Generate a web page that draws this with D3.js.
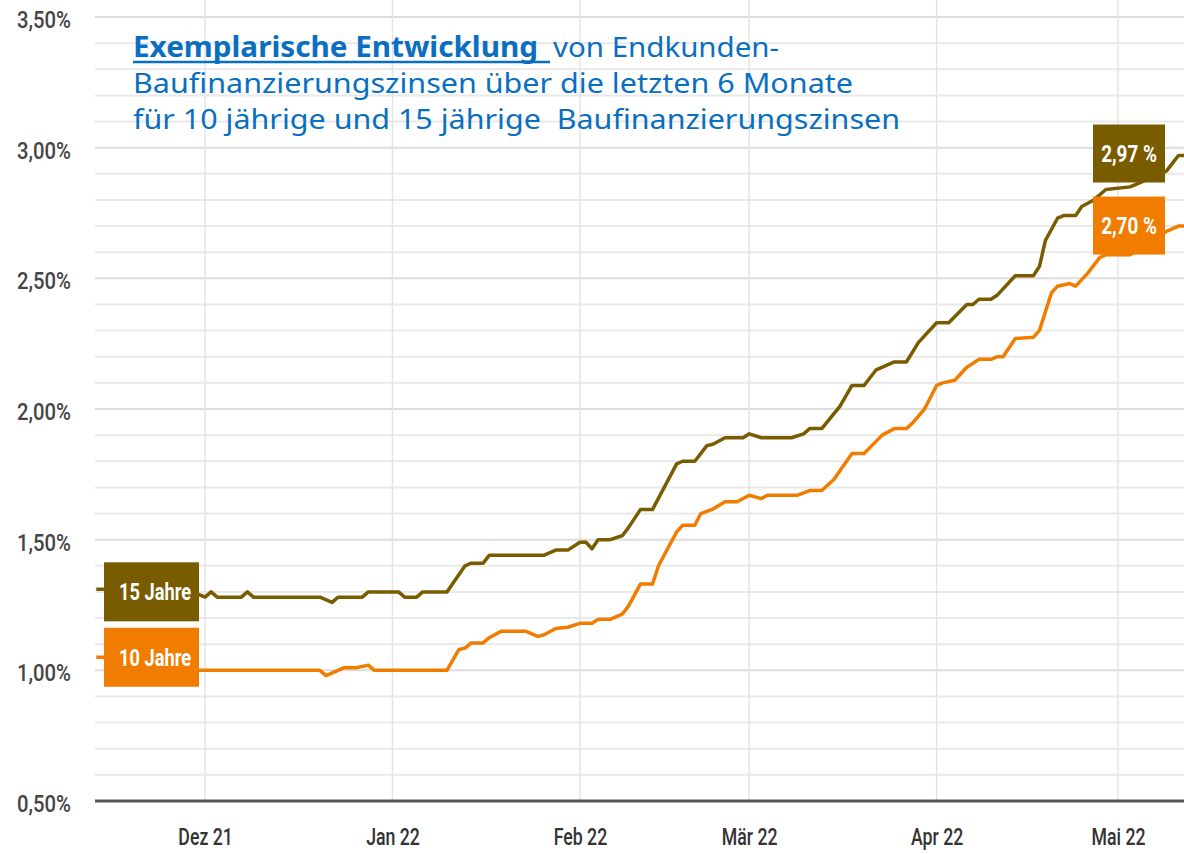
<!DOCTYPE html>
<html>
<head>
<meta charset="utf-8">
<script src="https://cdn.jsdelivr.net/npm/d3@7"></script>
<style>
  body { margin: 0; background: #fff; }
  svg { display: block; }
</style>
</head>
<body>
<script>
// Breakpoints of the two lines
var dates15 = ["2021-11-13","2021-11-14","2021-11-20","2021-11-24","2021-11-30","2021-12-01","2021-12-02","2021-12-03","2021-12-07","2021-12-08","2021-12-09","2021-12-20","2021-12-22","2021-12-23","2021-12-27","2021-12-28","2022-01-02","2022-01-03","2022-01-05","2022-01-06","2022-01-10","2022-01-13","2022-01-14","2022-01-16","2022-01-17","2022-01-26","2022-01-28","2022-01-30","2022-02-01","2022-02-02","2022-02-03","2022-02-04","2022-02-06","2022-02-08","2022-02-09","2022-02-11","2022-02-13","2022-02-17","2022-02-18","2022-02-20","2022-02-22","2022-02-23","2022-02-25","2022-02-28","2022-03-01","2022-03-03","2022-03-08","2022-03-10","2022-03-11","2022-03-13","2022-03-16","2022-03-18","2022-03-20","2022-03-22","2022-03-25","2022-03-27","2022-03-29","2022-04-01","2022-04-03","2022-04-06","2022-04-07","2022-04-08","2022-04-10","2022-04-11","2022-04-14","2022-04-17","2022-04-18","2022-04-19","2022-04-21","2022-04-22","2022-04-24","2022-04-25","2022-04-27","2022-04-29","2022-05-03","2022-05-06","2022-05-09","2022-05-11","2022-05-12"];
var values15 = [1.31,1.31,1.31,1.29,1.29,1.28,1.30,1.28,1.28,1.30,1.28,1.28,1.26,1.28,1.28,1.30,1.30,1.28,1.28,1.30,1.30,1.40,1.41,1.41,1.44,1.44,1.46,1.46,1.49,1.49,1.465,1.50,1.50,1.515,1.545,1.615,1.615,1.79,1.80,1.80,1.86,1.865,1.89,1.89,1.905,1.89,1.89,1.905,1.925,1.925,2.01,2.09,2.09,2.15,2.18,2.18,2.255,2.33,2.33,2.40,2.40,2.42,2.42,2.435,2.51,2.51,2.545,2.645,2.73,2.74,2.74,2.775,2.80,2.84,2.85,2.88,2.91,2.97,2.97];

var dates10 = ["2021-11-13","2021-11-14","2021-11-20","2021-11-24","2021-11-30","2021-12-20","2021-12-21","2021-12-23","2021-12-24","2021-12-26","2021-12-28","2021-12-29","2022-01-10","2022-01-12","2022-01-13","2022-01-14","2022-01-16","2022-01-17","2022-01-19","2022-01-23","2022-01-25","2022-01-26","2022-01-28","2022-01-30","2022-02-01","2022-02-03","2022-02-04","2022-02-06","2022-02-08","2022-02-09","2022-02-11","2022-02-13","2022-02-14","2022-02-17","2022-02-18","2022-02-20","2022-02-21","2022-02-23","2022-02-25","2022-02-27","2022-03-01","2022-03-03","2022-03-04","2022-03-09","2022-03-11","2022-03-13","2022-03-15","2022-03-18","2022-03-20","2022-03-23","2022-03-25","2022-03-27","2022-03-28","2022-03-30","2022-04-01","2022-04-02","2022-04-04","2022-04-06","2022-04-08","2022-04-10","2022-04-11","2022-04-12","2022-04-14","2022-04-17","2022-04-18","2022-04-20","2022-04-21","2022-04-23","2022-04-24","2022-04-26","2022-04-28","2022-04-29","2022-05-03","2022-05-06","2022-05-09","2022-05-11","2022-05-12"];
var values10 = [1.05,1.05,1.05,1.00,1.00,1.00,0.98,1.00,1.01,1.01,1.02,1.00,1.00,1.08,1.085,1.105,1.105,1.125,1.15,1.15,1.13,1.135,1.16,1.165,1.18,1.18,1.195,1.195,1.215,1.245,1.33,1.33,1.40,1.53,1.555,1.555,1.60,1.617,1.645,1.645,1.67,1.657,1.67,1.67,1.688,1.688,1.73,1.83,1.83,1.90,1.925,1.925,1.946,2.00,2.09,2.10,2.11,2.16,2.19,2.19,2.20,2.20,2.27,2.275,2.30,2.445,2.47,2.48,2.47,2.52,2.58,2.59,2.59,2.63,2.68,2.70,2.70];

// Axis ticks and labels
var monthTicks = ["2021-12-01","2022-01-01","2022-02-01","2022-03-01","2022-04-01","2022-05-01"];
var monthLabels = ["Dez 21","Jan 22","Feb 22","Mär 22","Apr 22","Mai 22"];
var yTicks = [0.5, 1.0, 1.5, 2.0, 2.5, 3.0, 3.5];
var yTickLabels = ["0,50%","1,00%","1,50%","2,00%","2,50%","3,00%","3,50%"];

var seriesNames = ["15 Jahre", "10 Jahre"];
var endLabels = ["2,97 %", "2,70 %"];
var seriesColors = ["#7a5c00", "#f07d00"];

var titleBold = "Exemplarische Entwicklung";
var titleRest = "von Endkunden-";
var titleLine2 = "Baufinanzierungszinsen über die letzten 6 Monate";
var titleLine3 = "für 10 jährige und 15 jährige  Baufinanzierungszinsen";

// SVG size and plot area
var svg_Width = 1184;
var svg_Height = 854;
var plot = { left: 95, right: 1184, top: 17, bottom: 801 };

var svg = d3.select("body")
  .append("svg")
  .attr("width", svg_Width)
  .attr("height", svg_Height)
  .style("background", "#fff");

var parseDate = d3.utcParse("%Y-%m-%d");
var labelFont = "Roboto, 'DejaVu Sans', sans-serif";

// squeeze text horizontally, there is no condensed font installed
function condense(sel, factor) {
  sel.each(function() {
    var w = this.getComputedTextLength();
    d3.select(this)
      .attr("textLength", w * factor)
      .attr("lengthAdjust", "spacingAndGlyphs");
  });
}

// scales
var x = d3.scaleUtc()
  .domain([new Date(Date.UTC(2021, 10, 12, 19)), new Date(Date.UTC(2022, 4, 11, 22))])
  .range([plot.left, plot.right]);

var y = d3.scaleLinear()
  .domain([0.5, 3.5])
  .range([plot.bottom, plot.top]);

// horizontal grid, every 0.1 %
svg.append("g")
  .selectAll("line")
  .data(y.ticks(30))
  .enter()
  .append("line")
  .attr("x1", plot.left)
  .attr("x2", plot.right)
  .attr("y1", d => y(d))
  .attr("y2", d => y(d))
  .attr("stroke", d => Math.abs(d * 2 - Math.round(d * 2)) < 1e-6 ? "#dddddd" : "#e9e9e9")
  .attr("stroke-width", 2);

// vertical grid at month starts
svg.append("g")
  .selectAll("line")
  .data(monthTicks.map(parseDate))
  .enter()
  .append("line")
  .attr("x1", d => x(d))
  .attr("x2", d => x(d))
  .attr("y1", 0)
  .attr("y2", plot.bottom)
  .attr("stroke", "#e4e4e4")
  .attr("stroke-width", 1.5);

// y axis labels
var left_Axis = d3.axisLeft(y)
  .tickValues(yTicks)
  .tickFormat((d, i) => yTickLabels[i])
  .tickSize(0)
  .tickPadding(0);

var yAxisG = svg.append("g")
  .attr("transform", "translate(71,0)")
  .call(left_Axis);
yAxisG.select(".domain").remove();
yAxisG.selectAll("text")
  .attr("dy", "0.45em")
  .style("font-family", labelFont)
  .style("font-weight", "500")
  .style("font-size", "23px")
  .style("fill", "#454545")
  .call(condense, 0.88);

// x axis labels
var bottom_Axis = d3.axisBottom(x)
  .tickValues(monthTicks.map(parseDate))
  .tickFormat((d, i) => monthLabels[i])
  .tickSize(0)
  .tickPadding(28);

var xAxisG = svg.append("g")
  .attr("transform", `translate(0, ${plot.bottom})`)
  .call(bottom_Axis);
xAxisG.select(".domain").remove();
xAxisG.selectAll("text")
  .style("font-family", labelFont)
  .style("font-weight", "500")
  .style("font-size", "23px")
  .style("fill", "#333")
  .call(condense, 0.77);

// base line
svg.append("line")
  .attr("x1", plot.left)
  .attr("x2", plot.right)
  .attr("y1", plot.bottom)
  .attr("y2", plot.bottom)
  .attr("stroke", "#555")
  .attr("stroke-width", 3);

// lines
svg.append("clipPath").attr("id", "plotclip")
  .append("rect")
  .attr("x", plot.left)
  .attr("y", 0)
  .attr("width", plot.right - plot.left)
  .attr("height", plot.bottom);

var series = [
  { name: seriesNames[0], end: endLabels[0], color: seriesColors[0],
    points: dates15.map((d, i) => ({ date: parseDate(d), value: values15[i] })) },
  { name: seriesNames[1], end: endLabels[1], color: seriesColors[1],
    points: dates10.map((d, i) => ({ date: parseDate(d), value: values10[i] })) }
];

var line = d3.line()
  .x(d => x(d.date))
  .y(d => y(d.value));

svg.append("g")
  .attr("clip-path", "url(#plotclip)")
  .selectAll("path")
  .data(series)
  .enter()
  .append("path")
  .attr("d", d => line(d.points))
  .attr("fill", "none")
  .attr("stroke", d => d.color)
  .attr("stroke-width", 3.5)
  .attr("stroke-linejoin", "round");

// name boxes on the left
var startBoxes = svg.append("g")
  .selectAll("g")
  .data(series)
  .enter()
  .append("g")
  .attr("transform", (d, i) => `translate(104, ${y(d.points[0].value) + (i === 0 ? 2.5 : 0) - 29.5})`);

startBoxes.append("rect")
  .attr("width", 95)
  .attr("height", 59)
  .attr("fill", d => d.color);

startBoxes.append("text")
  .attr("x", 87)
  .attr("y", 38)
  .attr("text-anchor", "end")
  .style("font-family", labelFont)
  .style("font-weight", "bold")
  .style("font-size", "24px")
  .style("fill", "#fff")
  .text(d => d.name)
  .call(condense, 0.76);

// value boxes on the right
var endBoxes = svg.append("g")
  .selectAll("g")
  .data(series)
  .enter()
  .append("g")
  .attr("transform", (d, i) => `translate(1093, ${y(d.points[d.points.length - 1].value) - (i === 0 ? 2 : 0.5) - 29})`);

endBoxes.append("rect")
  .attr("width", 72)
  .attr("height", 58)
  .attr("fill", d => d.color);

endBoxes.append("text")
  .attr("x", 36)
  .attr("y", 37)
  .attr("text-anchor", "middle")
  .style("font-family", labelFont)
  .style("font-weight", "bold")
  .style("font-size", "23px")
  .style("fill", "#fff")
  .text(d => d.end)
  .call(condense, 0.82);

// title
var titleFont = "'Noto Sans', 'Open Sans', sans-serif";
var titleColor = "#0a6fc0";

svg.append("text")
  .attr("x", 133)
  .attr("y", 57)
  .attr("textLength", 405)
  .attr("lengthAdjust", "spacingAndGlyphs")
  .style("font-family", titleFont)
  .style("font-weight", "bold")
  .style("font-size", "28px")
  .style("fill", titleColor)
  .text(titleBold);

svg.append("line")
  .attr("x1", 133)
  .attr("x2", 550)
  .attr("y1", 62)
  .attr("y2", 62)
  .attr("stroke", titleColor)
  .attr("stroke-width", 2.5);

svg.append("text")
  .attr("x", 553)
  .attr("y", 57)
  .attr("textLength", 226)
  .attr("lengthAdjust", "spacingAndGlyphs")
  .style("font-family", titleFont)
  .style("font-size", "28px")
  .style("fill", titleColor)
  .text(titleRest);

svg.append("text")
  .attr("x", 133)
  .attr("y", 93)
  .attr("textLength", 720)
  .attr("lengthAdjust", "spacingAndGlyphs")
  .style("font-family", titleFont)
  .style("font-size", "28px")
  .style("fill", titleColor)
  .text(titleLine2);

svg.append("text")
  .attr("x", 133)
  .attr("y", 129)
  .attr("textLength", 767)
  .attr("lengthAdjust", "spacingAndGlyphs")
  .style("font-family", titleFont)
  .style("font-size", "28px")
  .style("fill", titleColor)
  .style("white-space", "pre")
  .text(titleLine3);
</script>
</body>
</html>
